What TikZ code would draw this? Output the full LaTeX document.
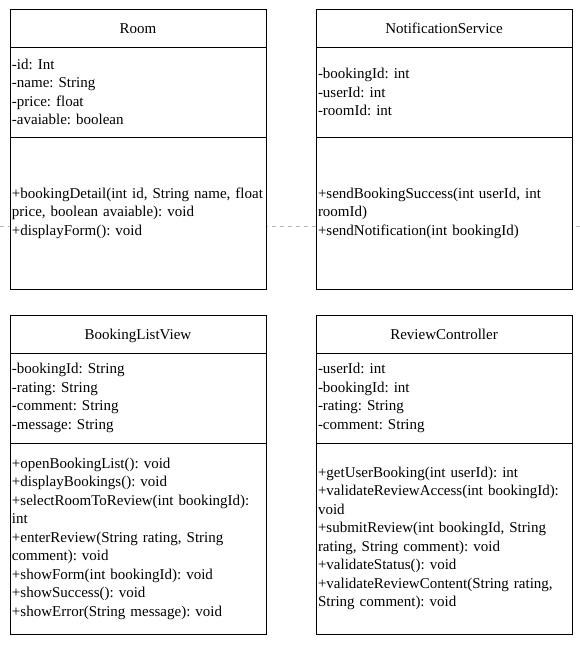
\documentclass[tikz,border=0pt]{standalone}
\usepackage{fontspec}
\setmainfont{Liberation Serif}
\usetikzlibrary{positioning}

\tikzset{
	classbox/.style={draw, fill=white, line width=1pt, outer sep=0pt, text width=252pt, inner xsep=2pt, inner ysep=0pt, font=\fontsize{15}{18.5}\selectfont\frenchspacing},
	classhead/.style={classbox, align=center, minimum height=38pt, text height=10pt, text depth=0pt},
	classattr/.style={classbox, align=left, minimum height=90pt},
	classmeth/.style={classbox, align=left, minimum height=152pt},
	classmethlong/.style={classbox, align=left, minimum height=191pt},
	dashline/.style={draw=gray!55, dash pattern=on 4pt off 4pt, line width=1pt}
}

\begin{document}
\begin{tikzpicture}[x=1pt, y=1pt]
		
		\useasboundingbox (0,0) rectangle (580,-645);
		
		\coordinate (lft) at (0,-226);
		\coordinate (rgt) at (580,-226);
		\draw[dashline] (lft) -- (rgt);
		
		\node[classhead, anchor=north west] (room) at (10,-9) {Room};
		\node[classattr, below=0pt of room] (roomattr) {-id: Int\\-name: String\\-price: float\\-avaiable: boolean};
		\node[classmeth, below=0pt of roomattr] (roommeth) {+bookingDetail(int id, String name, float\\price, boolean avaiable): void\\+displayForm(): void};
		
		\node[classhead, right=50pt of room] (notif) {NotificationService};
		\node[classattr, below=0pt of notif] (notifattr) {-bookingId: int\\-userId: int\\-roomId: int};
		\node[classmeth, below=0pt of notifattr] (notifmeth) {+sendBookingSuccess(int userId, int\\roomId)\\+sendNotification(int bookingId)};
		
		\node[classhead, below=26pt of roommeth] (list) {BookingListView};
		\node[classattr, below=0pt of list] (listattr) {-bookingId: String\\-rating: String\\-comment: String\\-message: String};
		\node[classmethlong, below=0pt of listattr] (listmeth) {+openBookingList(): void\\+displayBookings(): void\\+selectRoomToReview(int bookingId):\\int\\+enterReview(String rating, String\\comment): void\\+showForm(int bookingId): void\\+showSuccess(): void\\+showError(String message): void};
		
		\node[classhead, right=50pt of list] (review) {ReviewController};
		\node[classattr, below=0pt of review] (reviewattr) {-userId: int\\-bookingId: int\\-rating: String\\-comment: String};
		\node[classmethlong, below=0pt of reviewattr] (reviewmeth) {+getUserBooking(int userId): int\\+validateReviewAccess(int bookingId):\\void\\+submitReview(int bookingId, String\\rating, String comment): void\\+validateStatus(): void\\+validateReviewContent(String rating,\\String comment): void};
		
		\end{tikzpicture}
\end{document}
